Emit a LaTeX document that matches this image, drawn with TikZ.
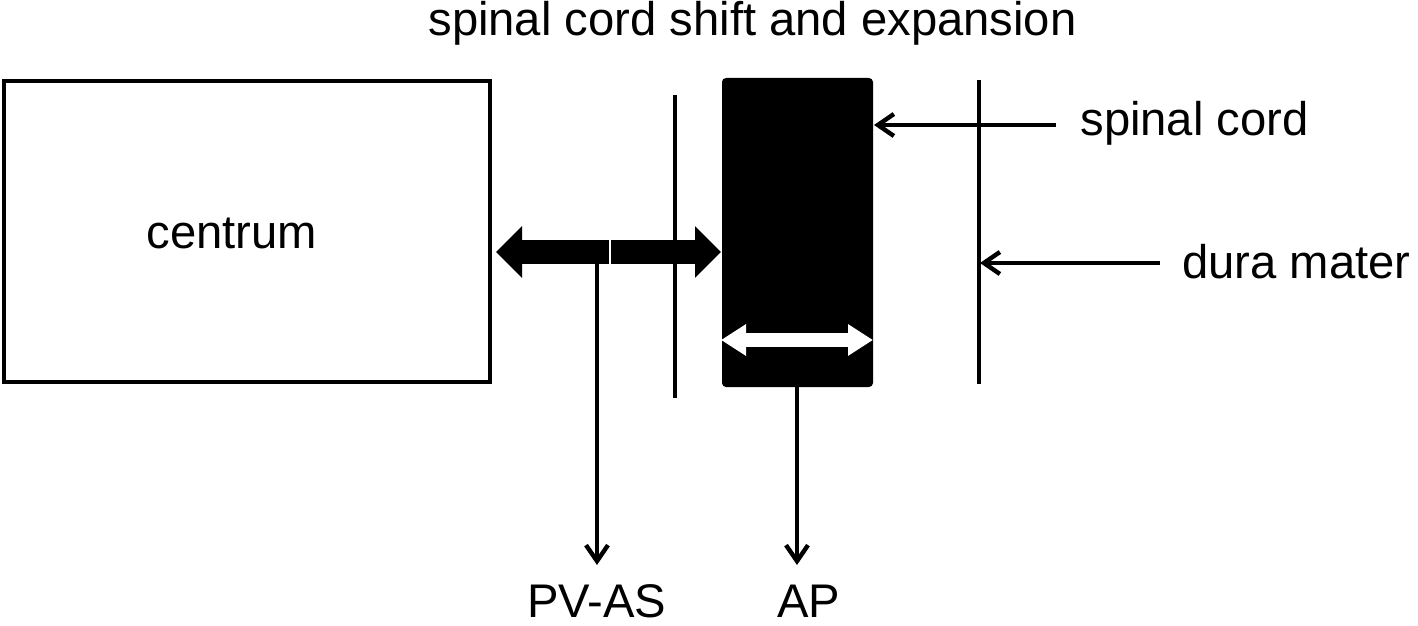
\documentclass[tikz,border=0pt]{standalone}
\usepackage{fontspec}
\setmainfont{Liberation Sans}
\usetikzlibrary{arrows.meta}
\tikzset{
  lbl/.style={inner sep=0pt, anchor=base west, font=\fontsize{23.6}{28}\selectfont},
  thin/.style={line width=1.9pt},
  ptr/.style={line width=1.9pt, -{Straight Barb[length=8pt,width=11pt,line width=2.2pt]}},
  bigarrow/.style={line width=12pt, -{Triangle[length=13pt,width=25pt]}},
  whitearrow/.style={white, line width=7pt, {Triangle[length=12.5pt,width=15pt]}-{Triangle[length=12.5pt,width=15pt]}},
}
\begin{document}
\begin{tikzpicture}[x=0.5pt,y=-0.5pt]
\useasboundingbox (0,0) rectangle (1418,626);
% title
\node[lbl] (title) at (428,36) {spinal cord shift and expansion};
% centrum box
\draw[thin] (4,81) rectangle (490,382);
\node[lbl] (centrum) at (146,248) {centrum};
% inner line
\coordinate (l1top) at (675,95);
\coordinate (l1bot) at (675,398);
\draw[thin] (l1top) -- (l1bot);
% spinal cord (black)
\fill[black, rounded corners=2pt] (722,78) rectangle (873,387);
% dura mater line
\coordinate (dtop) at (979,80);
\coordinate (dbot) at (979,384);
\draw[thin] (dtop) -- (dbot);
% big double arrow (split)
\coordinate (gapL) at (609,252);
\coordinate (gapR) at (611,252);
\coordinate (tipL) at (496,252);
\coordinate (tipR) at (721,252);
\draw[bigarrow] (gapL) -- (tipL);
\draw[bigarrow] (gapR) -- (tipR);
% white double arrow inside cord
\coordinate (wL) at (721,340);
\coordinate (wR) at (873,340);
\draw[whitearrow] (wL) -- (wR);
% PV-AS arrow
\coordinate (pvtop) at (597,263);
\coordinate (pvbot) at (597,565);
\draw[ptr] (pvtop) -- (pvbot);
\node[lbl] (pvas) at (527,617) {PV-AS};
% AP arrow
\coordinate (aptop) at (797,386);
\coordinate (apbot) at (797,565);
\draw[ptr] (aptop) -- (apbot);
\node[lbl] (ap) at (777,617) {AP};
% spinal cord label
\coordinate (scstart) at (1056,125);
\coordinate (scend) at (874,125);
\draw[ptr] (scstart) -- (scend);
\node[lbl] (sclbl) at (1080,135) {spinal cord};
% dura mater label
\coordinate (dmstart) at (1160,263);
\coordinate (dmend) at (980,263);
\draw[ptr] (dmstart) -- (dmend);
\node[lbl] (dmlbl) at (1182,278) {dura mater};
\end{tikzpicture}
\end{document}
